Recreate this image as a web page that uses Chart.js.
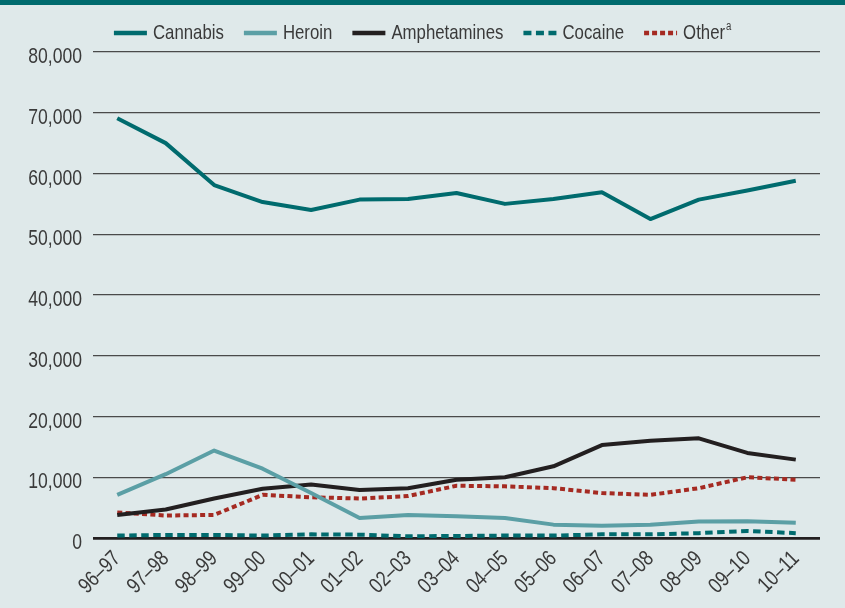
<!DOCTYPE html>
<html><head><meta charset="utf-8">
<script src="https://cdn.jsdelivr.net/npm/chart.js@4.4.1/dist/chart.umd.min.js"></script>
<style>
html,body{margin:0;padding:0;background:#dfe9ea;}
#wrap{position:relative;width:845px;height:608px;}
#bar{position:absolute;left:0;top:0;width:845px;height:5px;background:#006b6e;}
canvas{position:absolute;left:0;top:0;}
</style></head><body>
<div id="wrap"><canvas id="c" width="845" height="608"></canvas><div id="bar"></div></div>
<script>
const categories = ["96–97","97–98","98–99","99–00","00–01","01–02","02–03","03–04","04–05","05–06","06–07","07–08","08–09","09–10","10–11"];
const cannabis = [69100,65000,58100,55300,54000,55700,55800,56800,55000,55800,56900,52500,55700,57200,58800];
const heroin = [7100,10500,14400,11400,7400,3300,3800,3600,3300,2200,2000,2200,2700,2750,2500];
const amphetamines = [3800,4700,6500,8100,8800,7900,8200,9600,10000,11800,15300,16000,16400,14000,12900];
const cocaine = [400,500,500,400,600,550,280,330,400,400,600,600,800,1150,800];
const other = [4200,3700,3800,7100,6700,6500,6900,8600,8500,8200,7400,7100,8200,10000,9600];
const yTicks = [0,10000,20000,30000,40000,50000,60000,70000,80000];
const seriesNames = ["Cannabis","Heroin","Amphetamines","Cocaine","Other"];

const FONT = "'Liberation Sans', Arial, sans-serif";
const TEXT = '#3a3a3a';

// narrow text rendering (Arial-Narrow-like) on this canvas
const canvas = document.getElementById('c');
const ctx0 = canvas.getContext('2d');
const SX = 0.8;
const oFill = CanvasRenderingContext2D.prototype.fillText;
const oMeasure = CanvasRenderingContext2D.prototype.measureText;
ctx0.fillText = function(t, x, y, mw) {
  this.save(); this.translate(x, y); this.scale(SX, 1);
  if (mw !== undefined && mw !== null) oFill.call(this, t, 0, 0, mw / SX); else oFill.call(this, t, 0, 0);
  this.restore();
};
ctx0.measureText = function(t) {
  const m = oMeasure.call(this, t);
  return {width: m.width * SX,
    actualBoundingBoxAscent: m.actualBoundingBoxAscent, actualBoundingBoxDescent: m.actualBoundingBoxDescent,
    actualBoundingBoxLeft: m.actualBoundingBoxLeft * SX, actualBoundingBoxRight: m.actualBoundingBoxRight * SX,
    fontBoundingBoxAscent: m.fontBoundingBoxAscent, fontBoundingBoxDescent: m.fontBoundingBoxDescent};
};

Chart.defaults.font.family = FONT;
Chart.defaults.color = TEXT;

function ds(label, data, color, dash){
  return {label, data, borderColor: color, backgroundColor: color, borderWidth: 4,
    borderDash: dash || [], pointRadius: 0, pointHoverRadius: 0, tension: 0, fill: false,
    borderCapStyle: 'butt', borderJoinStyle: 'round'};
}

const legendPlugin = {
  id: 'customLegend',
  afterDraw(chart) {
    const ctx = chart.ctx;
    ctx.save();
    ctx.font = "21px " + FONT;
    ctx.textBaseline = 'middle';
    ctx.textAlign = 'left';
    const sampleW = 33, gap1 = 6, gap2 = 20, y = 33;
    const items = chart.data.datasets.map((d, i) => {
      let w = ctx.measureText(seriesNames[i]).width;
      if (i === 4) w += 7;
      return {d, w};
    });
    let total = 0;
    items.forEach((it, i) => { total += sampleW + gap1 + it.w + (i < items.length - 1 ? gap2 : 0); });
    let x = 423 - total / 2;
    items.forEach((it, i) => {
      ctx.save();
      ctx.strokeStyle = it.d.borderColor;
      ctx.lineWidth = 4.5;
      ctx.setLineDash(i === 3 ? [8, 4.5] : (i === 4 ? [5, 3] : []));
      ctx.beginPath(); ctx.moveTo(x, y); ctx.lineTo(x + sampleW, y); ctx.stroke();
      ctx.restore();
      x += sampleW + gap1;
      ctx.fillStyle = TEXT;
      ctx.fillText(seriesNames[i], x, y);
      if (i === 4) {
        const tw = ctx.measureText(seriesNames[i]).width;
        ctx.font = "12px " + FONT;
        ctx.fillText('a', x + tw + 1, y - 6);
        ctx.font = "21px " + FONT;
      }
      x += it.w + gap2;
    });
    ctx.restore();
  }
};

new Chart(canvas, {
  type: 'line',
  data: {
    labels: categories,
    datasets: [
      ds('Cannabis', cannabis, '#006b6e'),
      ds('Heroin', heroin, '#5b9fa5'),
      ds('Amphetamines', amphetamines, '#231f20'),
      ds('Cocaine', cocaine, '#006b6e', [7.5,4.5]),
      ds('Otherᵃ', other, '#a52a22', [5,3.3])
    ]
  },
  plugins: [legendPlugin],
  options: {
    responsive: false,
    animation: false,
    layout: {padding: {top: 52, left: 0, right: 25, bottom: 0}},
    plugins: {
      legend: {display: false},
      tooltip: {enabled: false}
    },
    scales: {
      x: {
        offset: true,
        grid: {display: false},
        border: {display: false},
        ticks: {minRotation: 45, maxRotation: 45, font: {size: 22}, color: TEXT, padding: 0, autoSkip: false},
        afterFit: s => { s.height = 70; }
      },
      y: {
        min: 0, max: 80000,
        afterBuildTicks: s => { s.ticks = yTicks.map(v => ({value: v})); },
        border: {display: false},
        grid: {
          drawTicks: false,
          color: c => c.tick && c.tick.value === 0 ? '#231f20' : '#4a4a4a',
          lineWidth: c => c.tick && c.tick.value === 0 ? 2.8 : 1.2
        },
        ticks: {
          padding: 11, labelOffset: 5, font: {size: 22}, color: TEXT,
          callback: v => v.toLocaleString('en-US')
        },
        afterFit: s => { s.width = 93; }
      }
    }
  }
});
</script>
</body></html>
